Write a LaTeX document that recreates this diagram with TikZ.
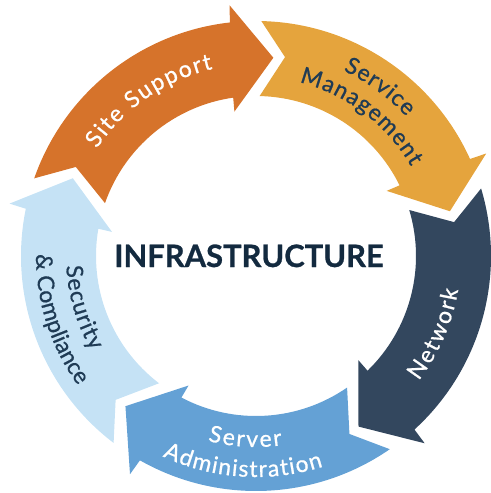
\documentclass[tikz,border=0pt]{standalone}
\usepackage{fontspec}
\setmainfont{Lato}
\newfontfamily\lblfont[FakeBold=0.8]{Lato}
\usetikzlibrary{decorations.text}
\definecolor{cOrange}{HTML}{D6732B}
\definecolor{cGold}{HTML}{E5A43D}
\definecolor{cNavy}{HTML}{33475E}
\definecolor{cBlue}{HTML}{64A1D5}
\definecolor{cLight}{HTML}{C5E2F5}
\definecolor{cText}{HTML}{1F3B55}
\definecolor{cTitle}{HTML}{132A3F}
\newcommand\ringarrow[2]{%
  \fill[#2] ({#1+75.7}:235bp) arc[start angle={#1+75.7}, end angle={#1+11.4}, radius=235bp]
    -- ({#1+11}:252bp) -- (#1:199bp) -- ({#1+13.5}:146bp) -- ({#1+13.2}:160bp)
    arc[start angle={#1+13.2}, end angle={#1+75.7}, radius=160bp]
    -- ({#1+68.7}:201bp) -- cycle;}
% label spread along an arc: start angle, end angle, radius, colour, text
\newcommand\fitlabel[5]{%
  \path[decorate, decoration={text along path, text align=fit to path, text color=#4, text={#5}}]
    (#1:#3) arc[start angle=#1, end angle=#2, radius=#3];}
% centred label: centre angle, radius, colour, text (counterclockwise)
\newcommand\ccwlabel[4]{%
  \path[decorate, decoration={text along path, text align=center, text color=#3, text={#4}}]
    ({#1-60}:#2) arc[start angle={#1-60}, end angle={#1+60}, radius=#2];}
\begin{document}
\begin{tikzpicture}[x=1bp,y=1bp]
\useasboundingbox (0,0) rectangle (491,-493);
\begin{scope}[shift={(256,-256)}]
  \ringarrow{85}{cOrange}
  \ringarrow{13}{cGold}
  \ringarrow{-59}{cNavy}
  \ringarrow{-131}{cBlue}
  \ringarrow{-203}{cLight}
  \lblfont\fontsize{23}{23}\selectfont
  \fitlabel{146}{103}{192bp}{white}{Site Support}
  \fitlabel{64.8}{42.8}{205bp}{cText}{Service}
  \fitlabel{76}{30}{179bp}{cText}{Management}
  \fitlabel{-37.5}{-9.5}{205bp}{white}{Network}
  \fitlabel{255.4}{277.9}{191bp}{white}{Server}
  \fitlabel{245}{287.7}{221bp}{white}{Administration}
  \fitlabel{183}{210}{190bp}{cText}{Security}
  \ccwlabel{197.8}{220bp}{cText}{{\&} Compliance}
  \node[font=\fontsize{31}{31}\selectfont\bfseries, text=cTitle, inner sep=0pt, anchor=base] (title) at (-7,-11) {INFRASTRUCTURE};
\end{scope}
\end{tikzpicture}
\end{document}
